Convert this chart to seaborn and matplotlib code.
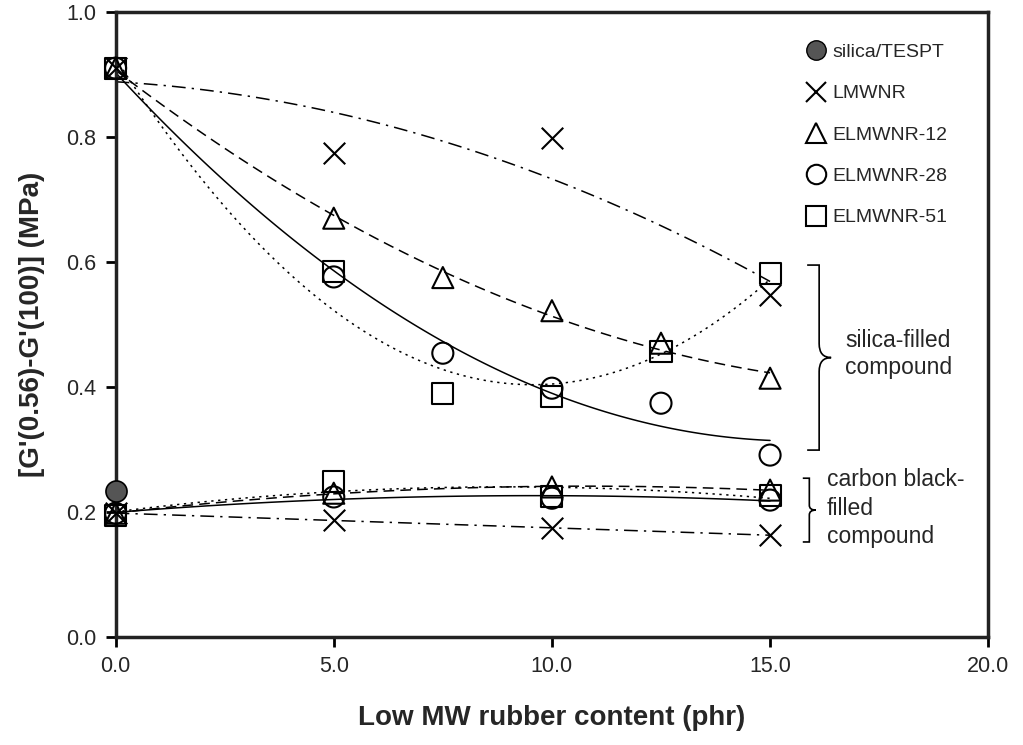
import numpy as np
import pandas as pd
import matplotlib
matplotlib.use("Agg")
import matplotlib.pyplot as plt
from matplotlib.lines import Line2D
from matplotlib.path import Path
from matplotlib.patches import PathPatch
import seaborn as sns

# x positions (phr)
x_silica = [0, 5, 7.5, 10, 12.5, 15]
x_lmw = [0, 5, 10, 15]
x_cb = [0, 5, 10, 15]

# silica-filled compound
silica_lmwnr = [0.91, 0.774, 0.798, 0.547]
silica_e12 = [0.91, 0.67, 0.575, 0.522, 0.47, 0.414]
silica_e28 = [0.91, 0.576, 0.454, 0.398, 0.374, 0.291]
silica_e51 = [0.91, 0.585, 0.389, 0.384, 0.456, 0.582]

# carbon black-filled compound
cb_lmwnr = [0.198, 0.187, 0.174, 0.163]
cb_e12 = [0.198, 0.23, 0.24, 0.235]
cb_e28 = [0.198, 0.224, 0.222, 0.219]
cb_e51 = [0.195, 0.248, 0.224, 0.227]

# reference compound
tespt_x = [0]
tespt_y = [0.233]

sns.set_theme(style="ticks")
plt.rcParams['font.family'] = ['Liberation Sans', 'DejaVu Sans']

fig = plt.figure(figsize=(10.23, 7.45), dpi=100)
ax = fig.add_axes([0.113, 0.145, 0.853, 0.839])

styles = {
    'LMWNR': dict(marker='x', ls=(0, (9, 4, 1.5, 4))),
    'ELMWNR-12': dict(marker='^', ls=(0, (7, 4))),
    'ELMWNR-28': dict(marker='o', ls='-'),
    'ELMWNR-51': dict(marker='s', ls=(0, (1.5, 3))),
}

series = [
    ('LMWNR', x_lmw, silica_lmwnr), ('ELMWNR-12', x_silica, silica_e12),
    ('ELMWNR-28', x_silica, silica_e28), ('ELMWNR-51', x_silica, silica_e51),
    ('LMWNR', x_cb, cb_lmwnr), ('ELMWNR-12', x_cb, cb_e12),
    ('ELMWNR-28', x_cb, cb_e28), ('ELMWNR-51', x_cb, cb_e51),
]

# 2nd order polynomial trend lines + markers
for name, xs, ys in series:
    st = styles[name]
    coef = np.polyfit(xs, ys, 2)
    xf = np.linspace(min(xs), max(xs), 120)
    df = pd.DataFrame({'x': xf, 'y': np.polyval(coef, xf)})
    sns.lineplot(data=df, x='x', y='y', ax=ax, color='black', lw=1.1,
                 linestyle=st['ls'], legend=False)
    pts = pd.DataFrame({'x': xs, 'y': ys})
    if st['marker'] == 'x':
        sns.scatterplot(data=pts, x='x', y='y', ax=ax, marker='x', s=240,
                        color='black', linewidth=1.5, legend=False, zorder=3)
    else:
        sns.scatterplot(data=pts, x='x', y='y', ax=ax, marker=st['marker'],
                        s=230, facecolor='none', edgecolor='black',
                        linewidth=1.5, legend=False, zorder=3)

sns.scatterplot(x=tespt_x, y=tespt_y, ax=ax, marker='o', s=230,
                color='#555555', edgecolor='black', linewidth=1.2,
                legend=False, zorder=3)

ax.set_xlim(0, 20)
ax.set_ylim(0, 1.0)
ax.set_xticks(np.arange(0, 20.1, 5))
ax.set_yticks(np.arange(0, 1.01, 0.2))
ax.xaxis.set_major_formatter(matplotlib.ticker.FormatStrFormatter('%.1f'))
ax.yaxis.set_major_formatter(matplotlib.ticker.FormatStrFormatter('%.1f'))
ax.tick_params(axis='both', labelsize=15.5, width=2, length=7, color='black',
               direction='out', pad=7)
for sp in ax.spines.values():
    sp.set_visible(True)
    sp.set_linewidth(2.5)
    sp.set_color('#222222')
for art in ax.collections:
    art.set_clip_on(False)

ax.set_xlabel('Low MW rubber content (phr)', fontsize=20, fontweight='bold',
              labelpad=20)
ax.set_ylabel("[G'(0.56)-G'(100)] (MPa)", fontsize=20, fontweight='bold',
              labelpad=15)

# legend: markers only
handles = [
    Line2D([], [], ls='none', marker='o', ms=14, mfc='#555555', mec='black'),
    Line2D([], [], ls='none', marker='x', ms=15, color='black', mew=1.5),
    Line2D([], [], ls='none', marker='^', ms=15, mfc='none', mec='black', mew=1.5),
    Line2D([], [], ls='none', marker='o', ms=14, mfc='none', mec='black', mew=1.5),
    Line2D([], [], ls='none', marker='s', ms=14, mfc='none', mec='black', mew=1.5),
]
labels = ['silica/TESPT', 'LMWNR', 'ELMWNR-12', 'ELMWNR-28', 'ELMWNR-51']
ax.legend(handles, labels, loc='upper left', bbox_to_anchor=(0.785, 0.962),
          frameon=False, fontsize=14, labelspacing=1.22, handlelength=0.8,
          handletextpad=0.45, borderaxespad=0)

# curly braces
def brace(x0, x1, y0, y1):
    ym = (y0 + y1) / 2
    xm = (x0 + x1) / 2
    verts = [(x0, y0), (xm, y0), (xm, y0), (xm, y0 + (ym - y0) * 0.15),
             (xm, ym - (ym - y0) * 0.15), (xm, ym), (x1, ym),
             (xm, ym), (xm, ym + (y1 - ym) * 0.15),
             (xm, y1 - (y1 - ym) * 0.15), (xm, y1), (xm, y1), (x0, y1)]
    codes = [Path.MOVETO, Path.CURVE3, Path.CURVE3, Path.LINETO,
             Path.LINETO, Path.CURVE3, Path.CURVE3,
             Path.CURVE3, Path.CURVE3, Path.LINETO,
             Path.LINETO, Path.CURVE3, Path.CURVE3]
    ax.add_patch(PathPatch(Path(verts, codes), fc='none', ec='black', lw=1.2,
                           clip_on=False))

brace(15.85, 16.4, 0.595, 0.299)
brace(15.75, 16.05, 0.254, 0.152)

ax.text(16.72, 0.453, 'silica-filled\ncompound', fontsize=16.5, va='center',
        ha='left', linespacing=1.25)
ax.text(16.3, 0.206, 'carbon black-\nfilled\ncompound', fontsize=16.5,
        va='center', ha='left', linespacing=1.3)

fig.savefig('out.png', dpi=100)
